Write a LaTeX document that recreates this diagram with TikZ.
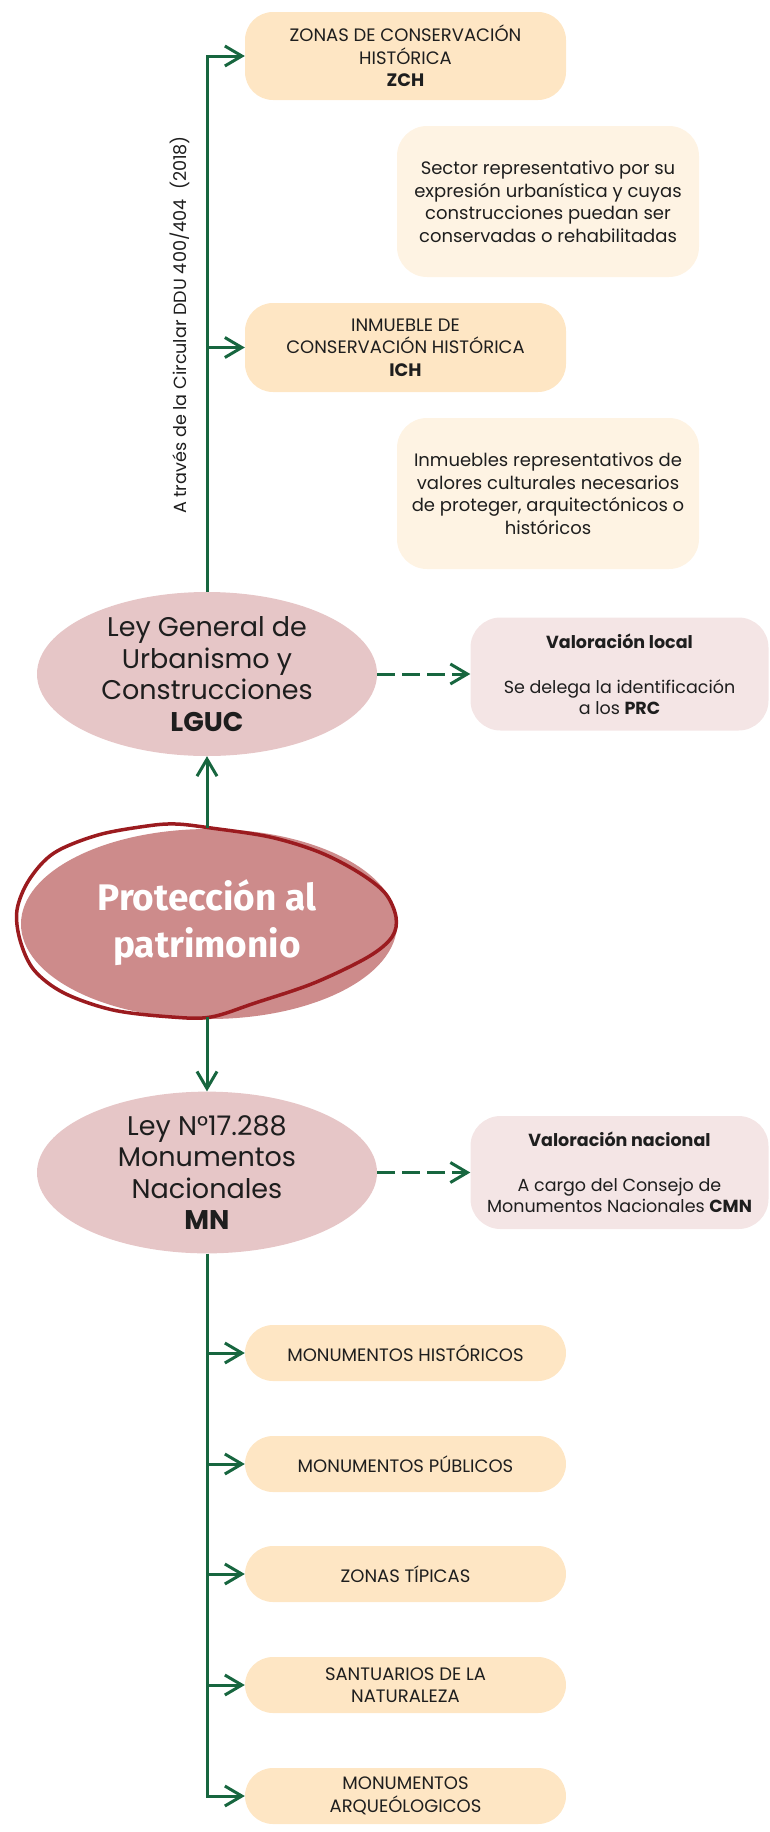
\documentclass[tikz,border=0pt]{standalone}
\usepackage{fontspec}
\setmainfont{Poppins}
\newfontfamily\protfont{Fira Sans}
\usetikzlibrary{arrows.meta,shapes.geometric}
\definecolor{gr}{HTML}{17663F}
\definecolor{peach}{HTML}{FEE6C4}
\definecolor{cream}{HTML}{FEF3E3}
\definecolor{rosebox}{HTML}{F4E5E5}
\definecolor{roseell}{HTML}{E6C6C7}
\definecolor{protfill}{HTML}{CD8B8B}
\definecolor{protline}{HTML}{9B1B1F}
\definecolor{txt}{HTML}{1E1E1E}
\begin{document}
\begin{tikzpicture}[x=1pt,y=-1pt,
  every node/.style={inner sep=0pt, text=txt},
  pill/.style={rectangle, rounded corners=28pt, fill=peach, minimum width=321pt, align=center, font=\fontsize{18}{22.5}\selectfont},
  note/.style={rectangle, rounded corners=30pt, fill=cream, minimum width=302pt, minimum height=151pt, align=center, font=\fontsize{18}{22.5}\selectfont},
  val/.style={rectangle, rounded corners=30pt, fill=rosebox, minimum width=298pt, minimum height=113pt, align=center, font=\fontsize{17.5}{21}\selectfont},
  law/.style={ellipse, fill=roseell, minimum width=340pt, align=center, font=\fontsize{27}{31.5}\selectfont},
  garrow/.style={draw=gr, line width=3pt, -{Straight Barb[length=17pt,width=20pt]}},
  gdash/.style={garrow, dash pattern=on 18pt off 7pt},
]
\useasboundingbox (0,0) rectangle (769,1832);

% upper boxes
\node[pill, minimum height=88pt] (zch) at (405.5,56) {ZONAS DE CONSERVACIÓN\\HISTÓRICA\\\textbf{ZCH}};
\node[note] (sector) at (548,201.5) {Sector representativo por su\\expresión urbanística y cuyas\\construcciones puedan ser\\conservadas o rehabilitadas};
\node[pill, minimum height=89pt] (ich) at (405.5,347.5) {INMUEBLE DE\\CONSERVACIÓN HISTÓRICA\\\textbf{ICH}};
\node[note] (inm) at (548,493.5) {Inmuebles representativos de\\valores culturales necesarios\\de proteger, arquitectónicos o\\históricos};

% laws
\node[law, minimum height=164pt] (lguc) at (207,674) {Ley General de\\Urbanismo y\\Construcciones\\\textbf{LGUC}};
\node[val] (vloc) at (619.5,674) {\textbf{Valoración local}\\[24pt]Se delega la identificación\\a los \textbf{PRC}};
\node[law, minimum height=159pt] (mn) at (207,1172.5) {Ley N°17.288\\Monumentos\\Nacionales\\\textbf{MN}};
\node[val] (vnac) at (619.5,1172.5) {\textbf{Valoración nacional}\\[24pt]A cargo del Consejo de\\Monumentos Nacionales \textbf{CMN}};

% central shape
\fill[protfill] (209,924) ellipse [x radius=188pt, y radius=95pt];
\draw[protline, line width=3.5pt] plot[smooth cycle, tension=0.55] coordinates {
 (17,910) (29,880) (54,853) (98,835) (147,826) (176,824) (211,828) (270,837)
 (319,852) (358,872) (385,893) (396,917) (392,937) (368,957) (314,983)
 (255,1003) (211,1017) (172,1017) (113,1010) (64,993) (34,970) (20,940)};
\node[ellipse, minimum width=380pt, minimum height=189pt, text=white, align=center,
  font=\protfont\bfseries\fontsize{37}{47}\selectfont] (prot) at (207,922.5) {Protección al\\patrimonio};

% rotated label
\node[rotate=90, anchor=base, font=\fontsize{17.6}{20}\selectfont] (ddu) at (186,325) {A través de la Circular DDU 400/404\ \ (2018)};

% lower boxes
\node[pill, minimum height=56pt] (mhist) at (405.5,1353) {MONUMENTOS HISTÓRICOS};
\node[pill, minimum height=56pt] (mpub) at (405.5,1464) {MONUMENTOS PÚBLICOS};
\node[pill, minimum height=56pt] (ztip) at (405.5,1574) {ZONAS TÍPICAS};
\node[pill, minimum height=56pt] (sant) at (405.5,1685) {SANTUARIOS DE LA\\NATURALEZA};
\node[pill, minimum height=56pt] (marq) at (405.5,1796) {MONUMENTOS\\ARQUEÓLOGICOS};

% connectors
\draw[garrow] (lguc.north) |- (zch.west);
\draw[garrow] (lguc.north |- ich.west) -- (ich.west);
\draw[garrow] (prot.north) -- (lguc.south);
\draw[garrow] (prot.south) -- (mn.north);
\draw[gdash] (lguc.east) -- (vloc.west);
\draw[gdash] (mn.east) -- (vnac.west);
\draw[garrow] (mn.south) |- (marq.west);
\foreach \n in {mhist,mpub,ztip,sant}
  \draw[garrow] (mn.south |- \n.west) -- (\n.west);
\end{tikzpicture}
\end{document}
